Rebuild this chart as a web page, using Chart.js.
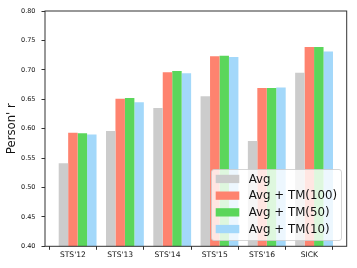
<!DOCTYPE html>
<html>
<head>
<meta charset="utf-8">
<script src="https://cdn.jsdelivr.net/npm/chart.js@4/dist/chart.umd.min.js"></script>
<style>
  html, body { margin: 0; padding: 0; background: #fff; }
  #wrap { width: 357px; height: 268px; }
</style>
</head>
<body>
<div id="wrap"><canvas id="chart-sts"></canvas></div>
<script>
// Data
const categories = ["STS'12", "STS'13", "STS'14", "STS'15", "STS'16", "SICK"];
const seriesNames = ['Avg', 'Avg + TM(100)', 'Avg + TM(50)', 'Avg + TM(10)'];
const avgValues = [0.541, 0.596, 0.635, 0.655, 0.579, 0.695];
const tm100Values = [0.593, 0.651, 0.696, 0.723, 0.669, 0.739];
const tm50Values = [0.592, 0.652, 0.698, 0.724, 0.669, 0.739];
const tm10Values = [0.590, 0.645, 0.694, 0.722, 0.670, 0.731];
const yTicks = [0.40, 0.45, 0.50, 0.55, 0.60, 0.65, 0.70, 0.75, 0.80];

const colors = ['#cccccc', '#fe836f', '#5bd65b', '#a3d8fa'];
const allValues = [avgValues, tm100Values, tm50Values, tm10Values];

const datasets = allValues.map(function (vals, k) {
    return {
        label: seriesNames[k],
        data: vals.map(function (v, i) { return { x: i, y: v }; }),
        backgroundColor: colors[k],
        borderWidth: 0,
        categoryPercentage: 0.8,
        barPercentage: 1.0
    };
});

// frame round the plot area
const framePlugin = {
    id: 'frame',
    afterDatasetsDraw: function (chart) {
        const a = chart.chartArea;
        const ctx = chart.ctx;
        ctx.save();
        ctx.strokeStyle = '#333';
        ctx.lineWidth = 1;
        ctx.strokeRect(a.left, a.top, a.right - a.left, a.bottom - a.top);
        ctx.restore();
    }
};

// legend inside the plot, drawn over the bars
const legendBoxPlugin = {
    id: 'legendBox',
    afterDraw: function (chart) {
        const ctx = chart.ctx;
        const box = { x: 211, y: 169, w: 130, h: 71 };
        ctx.save();
        ctx.fillStyle = 'rgba(255,255,255,0.8)';
        ctx.strokeStyle = 'rgba(204,204,204,0.8)';
        ctx.lineWidth = 1;
        ctx.beginPath();
        ctx.roundRect(box.x + 0.5, box.y + 0.5, box.w, box.h, 2.5);
        ctx.fill();
        ctx.stroke();
        ctx.font = '11.8px "DejaVu Sans"';
        ctx.textBaseline = 'middle';
        ctx.fillStyle = '#111';
        chart.data.datasets.forEach(function (ds, k) {
            const cy = 179 + k * 16.7;
            ctx.fillStyle = ds.backgroundColor;
            ctx.fillRect(215.7, cy - 4.2, 23.6, 8.3);
            ctx.fillStyle = '#111';
            ctx.fillText(ds.label, 248.7, cy + 0.5);
        });
        ctx.restore();
    }
};

new Chart(document.getElementById('chart-sts'), {
    type: 'bar',
    data: { datasets: datasets },
    options: {
        responsive: true,
        maintainAspectRatio: false,
        animation: false,
        devicePixelRatio: 1,
        layout: { padding: { left: 0, top: 11, right: 10.3, bottom: 0 } },
        plugins: {
            legend: { display: false },
            tooltip: { enabled: false }
        },
        scales: {
            x: {
                type: 'linear',
                min: -0.69,
                max: 5.69,
                offset: false,
                afterBuildTicks: function (axis) {
                    axis.ticks = categories.map(function (c, i) { return { value: i - 0.1 }; });
                },
                afterFit: function (axis) { axis.height = 21.7; },
                ticks: {
                    autoSkip: false,
                    maxRotation: 0,
                    padding: 1,
                    color: '#111',
                    font: { family: 'DejaVu Sans', size: 7.6 },
                    callback: function (value, index) { return categories[index]; }
                },
                grid: { drawOnChartArea: false, tickLength: 3.5, color: '#333' },
                border: { display: false }
            },
            y: {
                min: 0.4,
                max: 0.8,
                afterBuildTicks: function (axis) {
                    axis.ticks = yTicks.map(function (v) { return { value: v }; });
                },
                afterFit: function (axis) { axis.width = 45; },
                ticks: {
                    padding: 6,
                    color: '#111',
                    font: { family: 'DejaVu Sans', size: 6.5 },
                    callback: function (value) { return Number(value).toFixed(2); }
                },
                grid: { drawOnChartArea: false, tickLength: 3.5, color: '#333' },
                border: { display: false },
                title: {
                    display: true,
                    text: "Person' r",
                    color: '#111',
                    font: { family: 'DejaVu Sans', size: 11.7 },
                    padding: { top: 5, bottom: 0 }
                }
            }
        }
    },
    plugins: [framePlugin, legendBoxPlugin]
});
</script>
</body>
</html>
